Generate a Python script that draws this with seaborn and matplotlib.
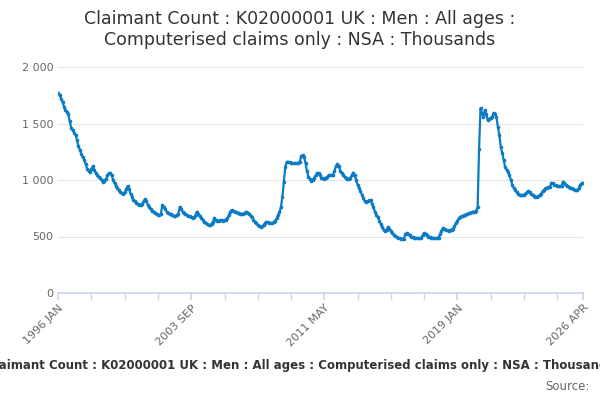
import matplotlib
matplotlib.use("Agg")
import matplotlib.pyplot as plt
import numpy as np
import pandas as pd
import seaborn as sns

# Monthly values (thousands), Jan 1996 .. Apr 2026
Y1996 = [1770, 1750, 1720, 1690, 1650, 1620, 1600, 1580, 1520, 1460, 1440, 1420]
Y1997 = [1400, 1350, 1300, 1265, 1230, 1200, 1180, 1140, 1100, 1080, 1070, 1100]
Y1998 = [1120, 1090, 1060, 1040, 1030, 1020, 1000, 980, 990, 1010, 1040, 1060]
Y1999 = [1060, 1040, 1000, 970, 950, 930, 910, 890, 885, 880, 890, 920]
Y2000 = [945, 920, 880, 850, 820, 810, 800, 790, 780, 780, 790, 810]
Y2001 = [830, 810, 780, 760, 740, 730, 720, 710, 700, 690, 690, 700]
Y2002 = [780, 760, 740, 720, 710, 700, 700, 690, 680, 680, 690, 700]
Y2003 = [760, 740, 720, 710, 700, 690, 680, 680, 670, 665, 670, 690]
Y2004 = [720, 700, 680, 660, 650, 630, 620, 610, 600, 600, 610, 630]
Y2005 = [665, 650, 640, 640, 645, 645, 640, 645, 650, 660, 690, 720]
Y2006 = [735, 730, 720, 720, 710, 710, 700, 700, 700, 710, 720, 710]
Y2007 = [700, 680, 670, 650, 630, 620, 600, 590, 585, 590, 600, 620]
Y2008 = [630, 625, 620, 620, 620, 625, 640, 660, 690, 715, 760, 850]
Y2009 = [980, 1115, 1160, 1160, 1155, 1150, 1150, 1150, 1150, 1150, 1150, 1160]
Y2010 = [1210, 1220, 1200, 1150, 1080, 1030, 1010, 990, 1000, 1020, 1040, 1060]
Y2011 = [1060, 1040, 1020, 1015, 1010, 1020, 1030, 1040, 1040, 1045, 1040, 1080]
Y2012 = [1120, 1140, 1120, 1080, 1060, 1040, 1030, 1020, 1010, 1010, 1020, 1040]
Y2013 = [1065, 1040, 1000, 960, 930, 900, 870, 840, 810, 805, 810, 820]
Y2014 = [820, 790, 760, 720, 690, 670, 640, 610, 580, 560, 550, 560]
Y2015 = [585, 570, 550, 530, 515, 505, 495, 490, 485, 480, 475, 480]
Y2016 = [520, 530, 520, 510, 500, 495, 490, 490, 485, 485, 485, 490]
Y2017 = [510, 530, 520, 510, 500, 495, 490, 490, 485, 485, 485, 490]
Y2018 = [520, 550, 575, 570, 560, 555, 550, 555, 560, 570, 590, 620]
Y2019 = [640, 660, 675, 680, 685, 690, 695, 700, 705, 710, 715, 720]
Y2020 = [720, 730, 760, 1275, 1635, 1590, 1560, 1620, 1580, 1530, 1540, 1550]
Y2021 = [1560, 1595, 1580, 1560, 1470, 1400, 1290, 1240, 1180, 1115, 1090, 1070]
Y2022 = [1045, 1000, 955, 930, 910, 890, 880, 870, 865, 865, 870, 880]
Y2023 = [890, 900, 895, 880, 870, 860, 850, 850, 855, 870, 880, 900]
Y2024 = [915, 930, 930, 935, 940, 975, 970, 960, 955, 950, 945, 945]
Y2025 = [945, 985, 970, 960, 950, 940, 930, 925, 920, 915, 910, 910]
Y2026 = [930, 960, 970, 975]

values = (Y1996 + Y1997 + Y1998 + Y1999 + Y2000 + Y2001 + Y2002 + Y2003 + Y2004
          + Y2005 + Y2006 + Y2007 + Y2008 + Y2009 + Y2010 + Y2011 + Y2012 + Y2013
          + Y2014 + Y2015 + Y2016 + Y2017 + Y2018 + Y2019 + Y2020 + Y2021 + Y2022
          + Y2023 + Y2024 + Y2025 + Y2026)
months = pd.period_range("1996-01", periods=len(values), freq="M")
df = pd.DataFrame({"i": np.arange(len(values)), "value": values})

TITLE = "Claimant Count : K02000001 UK : Men : All ages : Computerised claims only : NSA : Thousands"
LINE = "#0b7bc4"

sns.set_theme(style="white")
plt.rcParams["font.family"] = ["DejaVu Sans"]

fig = plt.figure(figsize=(6, 4), dpi=100)
ax = fig.add_axes([0.097, 0.2675, 0.875, 0.565])
sns.lineplot(data=df, x="i", y="value", ax=ax, color=LINE, linewidth=1.6,
             marker="o", markersize=2.6, markeredgewidth=0)

ax.set_xlim(0, len(values) - 1)
ax.set_ylim(0, 2000)
ax.set_yticks([0, 500, 1000, 1500, 2000])
ax.set_yticklabels(["0", "500", "1 000", "1 500", "2 000"], color="#666666", fontsize=8)
ax.grid(axis="y", color="#e6e6e6", linewidth=0.8)

minor = list(range(0, len(values), 23))
ax.set_xticks(minor, minor=True)
major = [0, 92, 184, 276, len(values) - 1]
ax.set_xticks(major)
ax.set_xticklabels([f"{months[k].year} {months[k].strftime('%b').upper()}" for k in major],
                   rotation=45, ha="right", rotation_mode="anchor", color="#666666", fontsize=8)
ax.tick_params(axis="x", which="both", length=5, color="#ccd6eb", direction="out",
               bottom=True, pad=2)
ax.tick_params(axis="y", length=0)
ax.set_xlabel("")
ax.set_ylabel("")
for s in ["top", "right", "left"]:
    ax.spines[s].set_visible(False)
ax.spines["bottom"].set_color("#ccd6eb")

fig.text(0.5, 0.975, "Claimant Count : K02000001 UK : Men : All ages :\nComputerised claims only : NSA : Thousands",
         ha="center", va="top", fontsize=12.5, color="#333333", linespacing=1.2)
fig.text(0.5, 0.085, TITLE, ha="center", va="center", fontsize=8.5, color="#333333", fontweight="bold")
fig.text(0.982, 0.035, "Source:", ha="right", va="center", fontsize=8.5, color="#666666")

fig.savefig("out.png", dpi=100)
